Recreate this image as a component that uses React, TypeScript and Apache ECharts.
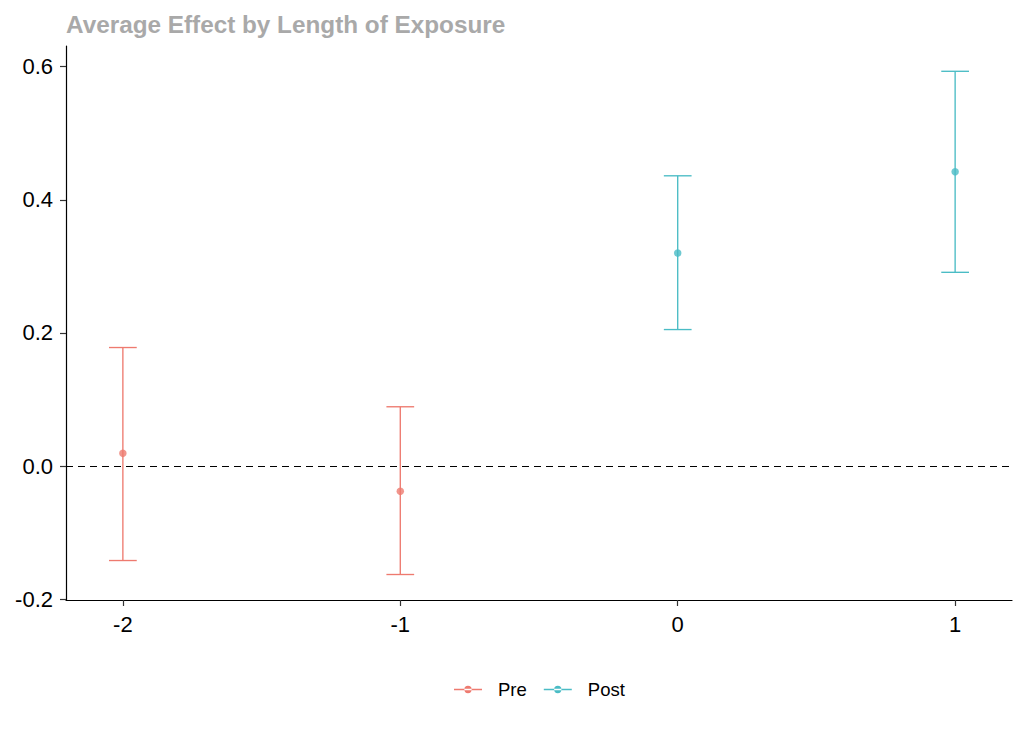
import React, { useEffect, useRef } from "react";
import * as echarts from "echarts";

const titleText = "Average Effect by Length of Exposure";
const xTicks = [-2, -1, 0, 1];
const yTicks = [-0.2, 0, 0.2, 0.4, 0.6];

const preX = [-2, -1];
const preEst = [0.019, -0.038];
const preLo = [-0.142, -0.163];
const preHi = [0.178, 0.089];

const postX = [0, 1];
const postEst = [0.32, 0.442];
const postLo = [0.205, 0.291];
const postHi = [0.436, 0.593];

const PRE_COLOR = "#EE7A6F";
const POST_COLOR = "#4ABCC5";
const FONT = "'Liberation Sans', Arial, sans-serif";
const CAP = 0.05;

const legendIcon =
  "path://M0,2.95h28v1.4h-28z M14,3.65m-3.65,0a3.65,3.65 0 1,0 7.3,0a3.65,3.65 0 1,0 -7.3,0z";

function errorRender(params: any, api: any) {
  const x = api.value(0);
  const lo = api.value(1);
  const hi = api.value(2);
  const pLo = api.coord([x, lo]);
  const pHi = api.coord([x, hi]);
  const lLo = api.coord([x - CAP, lo]);
  const rLo = api.coord([x + CAP, lo]);
  const lHi = api.coord([x - CAP, hi]);
  const rHi = api.coord([x + CAP, hi]);
  const style = { stroke: api.visual("color"), lineWidth: 1.35, fill: "none" };
  return {
    type: "group",
    children: [
      { type: "line", shape: { x1: pLo[0], y1: pLo[1], x2: pHi[0], y2: pHi[1] }, style },
      { type: "line", shape: { x1: lLo[0], y1: lLo[1], x2: rLo[0], y2: rLo[1] }, style },
      { type: "line", shape: { x1: lHi[0], y1: lHi[1], x2: rHi[0], y2: rHi[1] }, style },
    ],
  };
}

export default function App() {
  const ref = useRef<HTMLDivElement>(null);
  useEffect(() => {
    if (!ref.current) return;
    const chart = echarts.init(ref.current, null, { renderer: "svg" });
    const preErr = preX.map((x, i) => [x, preLo[i], preHi[i]]);
    const postErr = postX.map((x, i) => [x, postLo[i], postHi[i]]);
    const prePts = preX.map((x, i) => [x, preEst[i]]);
    const postPts = postX.map((x, i) => [x, postEst[i]]);
    chart.setOption({
      animation: false,
      backgroundColor: "#ffffff",
      title: {
        text: titleText,
        left: 66,
        top: 12,
        padding: 0,
        textStyle: { fontFamily: FONT, fontSize: 24.3, fontWeight: "bold", color: "#A9A9A9" },
      },
      legend: {
        left: 454,
        top: 680,
        padding: 0,
        itemWidth: 28,
        itemHeight: 7.3,
        itemGap: 17,
        data: [
          { name: "Pre", icon: legendIcon, itemStyle: { color: PRE_COLOR } },
          { name: "Post", icon: legendIcon, itemStyle: { color: POST_COLOR } },
        ],
        textStyle: { fontFamily: FONT, fontSize: 18.5, color: "#000", padding: [0, 0, 0, 11] },
      },
      grid: { left: 66, right: 12, top: 46, bottom: 131, containLabel: false },
      xAxis: {
        type: "value",
        min: -2.205,
        max: 1.205,
        splitLine: { show: false },
        axisLine: { onZero: false, lineStyle: { color: "#000", width: 1.2 } },
        axisTick: { show: true, length: 6, customValues: xTicks, lineStyle: { color: "#333", width: 1.2 } },
        axisLabel: {
          customValues: xTicks,
          margin: 13,
          fontFamily: FONT,
          fontSize: 22,
          color: "#000",
          formatter: (v: number) => String(v),
        },
      },
      yAxis: {
        type: "value",
        min: -0.2013,
        max: 0.631,
        splitLine: { show: false },
        axisLine: { show: true, onZero: false, lineStyle: { color: "#000", width: 1.2 } },
        axisTick: { show: true, length: 6, customValues: yTicks, lineStyle: { color: "#333", width: 1.2 } },
        axisLabel: {
          customValues: yTicks,
          margin: 13,
          fontFamily: FONT,
          fontSize: 22,
          color: "#000",
          formatter: (v: number) => v.toFixed(1),
        },
      },
      series: [
        {
          name: "Pre",
          type: "custom",
          renderItem: errorRender,
          itemStyle: { color: PRE_COLOR },
          data: preErr,
          z: 2,
        },
        {
          name: "Post",
          type: "custom",
          renderItem: errorRender,
          itemStyle: { color: POST_COLOR },
          data: postErr,
          z: 2,
        },
        {
          name: "Pre",
          type: "scatter",
          symbol: "circle",
          symbolSize: 7.5,
          itemStyle: { color: PRE_COLOR },
          data: prePts,
          z: 3,
          markLine: {
            silent: true,
            symbol: ["none", "none"],
            label: { show: false },
            lineStyle: { color: "#000", width: 1.2, type: [7, 5] },
            data: [{ yAxis: 0 }],
            z: 1,
          },
        },
        {
          name: "Post",
          type: "scatter",
          symbol: "circle",
          symbolSize: 7.5,
          itemStyle: { color: POST_COLOR },
          data: postPts,
          z: 3,
        },
      ],
    });
    return () => chart.dispose();
  }, []);
  return (
    <div
      ref={ref}
      style={{ position: "fixed", left: 0, top: 0, width: 1024, height: 731, background: "#fff" }}
    />
  );
}
